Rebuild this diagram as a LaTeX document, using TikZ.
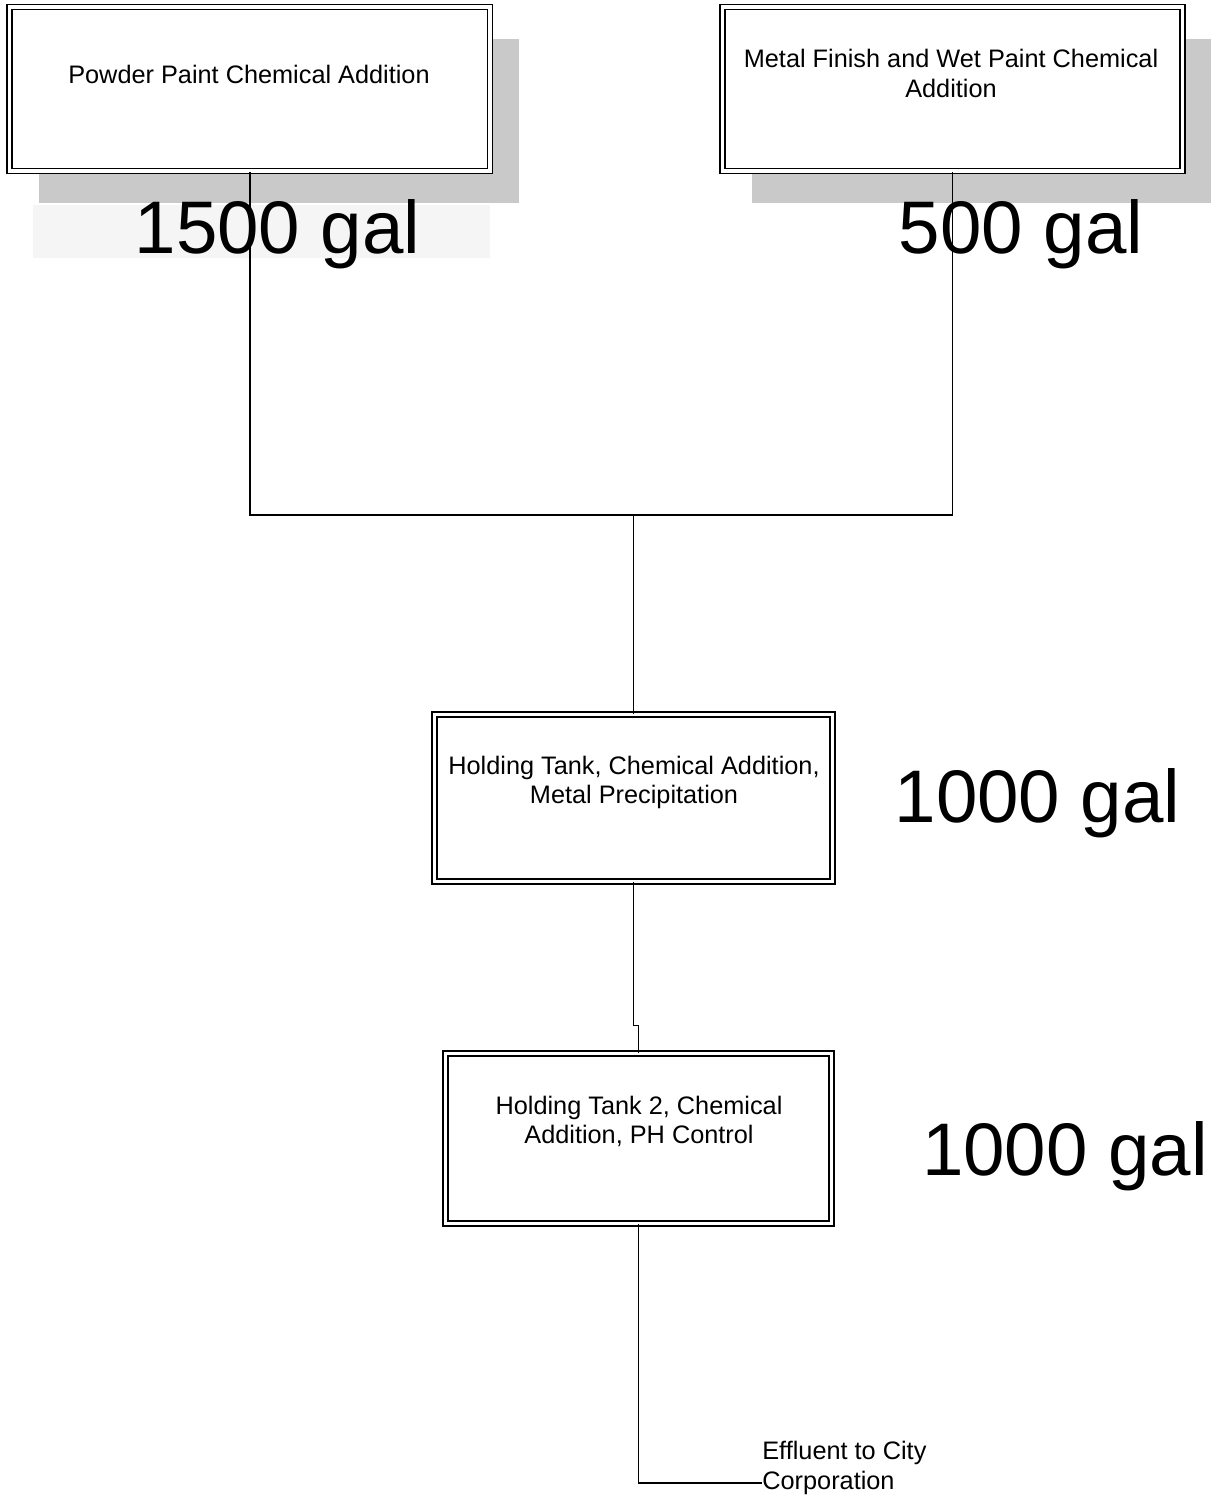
\documentclass[tikz,border=0pt]{standalone}
\usepackage{fontspec}
\setmainfont{Liberation Sans}
\usetikzlibrary{positioning,shadows}

\begin{document}
\begin{tikzpicture}[
  x=0.02cm, y=-0.02cm,
  tank/.style={draw, double, line width=1pt, double distance=1.8pt,
               fill=white, inner sep=0pt},
  shadowed/.style={drop shadow={shadow xshift=0.58cm, shadow yshift=-0.64cm,
                   fill=black!21, opacity=1}},
  txt/.style={align=center, inner sep=0pt, font=\fontsize{14.4pt}{17pt}\selectfont},
  vol/.style={inner sep=0pt, anchor=base, font=\fontsize{42.4pt}{50pt}\selectfont},
  pipe/.style={line width=0.9pt}
]
\useasboundingbox (0,0) rectangle (1219,1496);
\fill[black!4] (33,205) rectangle (490,258);

\node[tank, shadowed, minimum width=9.61cm, minimum height=3.28cm] (powder) at (249.75,89) {};
\node[tank, shadowed, minimum width=9.2cm, minimum height=3.28cm] (metal) at (952.5,89) {};
\node[tank, minimum width=7.96cm, minimum height=3.34cm] (tank1) at (633.5,798) {};
\node[tank, minimum width=7.72cm, minimum height=3.4cm] (tank2) at (638.5,1138.5) {};

\node[txt] (powdertxt) at (249,74) {Powder Paint Chemical Addition};
\node[txt] (metaltxt) at (951,73.5) {Metal Finish and Wet Paint Chemical\\Addition};
\node[txt] (tank1txt) at (634,782.5) {Holding Tank, Chemical Addition,\\Metal Precipitation};
\node[txt] (tank2txt) at (639,1121.5) {Holding Tank 2, Chemical\\Addition, PH Control};
\node[txt, align=left, anchor=west] (effl) at (762,1468) {Effluent to City\\Corporation};

\node[vol] (vol1) at (277.5,254) {1500 gal};
\node[vol] (vol2) at (1021,254) {500 gal};
\node[vol] (vol3) at (1037.5,822) {1000 gal};
\node[vol] (vol4) at (1065,1175) {1000 gal};

\coordinate (join) at (633.5,515);
\draw[pipe] (powder.south) |- (join) -| (metal.south);
\draw[pipe] (join) -- (tank1.north);
\draw[pipe] (tank1.south) -- ++(0,143) -| (tank2.north);
\draw[pipe] (tank2.south) |- ([yshift=-0.3cm]effl.west);
\end{tikzpicture}
\end{document}
